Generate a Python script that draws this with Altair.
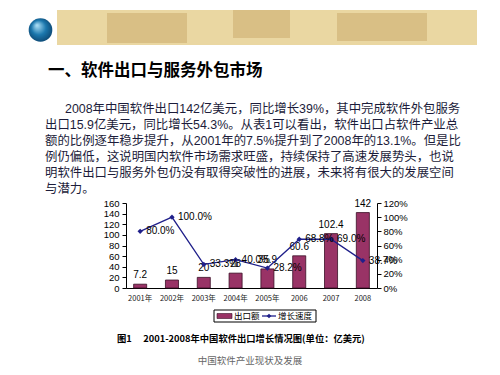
import altair as alt
import pandas as pd

# ---------------- data ----------------
years = ["2001年", "2002年", "2003年", "2004年", "2005年", "2006", "2007", "2008"]
export = [7.2, 15, 20, 28, 35.9, 60.6, 102.4, 142]
export_labels = ["7.2", "15", "20", "28", "35.9", "60.6", "102.4", "142"]
growth = [0.800, 1.000, 0.333, 0.400, 0.282, 0.688, 0.690, 0.387]
growth_labels = ["80.0%", "100.0%", "33.3%", "40.0%", "28.2%", "68.8%", "69.0%", "38.7%"]
left_ticks = [0, 20, 40, 60, 80, 100, 120, 140, 160]
right_ticks = [0, 0.2, 0.4, 0.6, 0.8, 1.0, 1.2]

title_text = "一、软件出口与服务外包市场"
para_first = "2008年中国软件出口142亿美元，同比增长39%，其中完成软件外包服务"
para_rest = [
    "出口15.9亿美元，同比增长54.3%。从表1可以看出，软件出口占软件产业总",
    "额的比例逐年稳步提升，从2001年的7.5%提升到了2008年的13.1%。但是比",
    "例仍偏低，这说明国内软件市场需求旺盛，持续保持了高速发展势头，也说",
    "明软件出口与服务外包仍没有取得突破性的进展，未来将有很大的发展空间",
    "与潜力。",
]
caption_text = "图1\u3000 2001-2008年中国软件出口增长情况图(单位：亿美元)"
footer_text = "中国软件产业现状及发展"
legend_names = ["出口额", "增长速度"]

df = pd.DataFrame({
    "year": years,
    "export": export,
    "elabel": export_labels,
    "growth": growth,
    "glabel": growth_labels,
})
one = pd.DataFrame({"a": [0]})

CJK = "Noto Sans CJK SC"
PARA = "Liberation Sans, Noto Sans CJK SC"
NUM = "Liberation Sans"
BAR = "#993366"
LINE = "#1f1f8a"

xenc = alt.X(
    "year:N", sort=years,
    scale=alt.Scale(paddingInner=0.59, paddingOuter=0.24),
    axis=alt.Axis(title=None, labelAngle=0, ticks=False, labelFont=CJK,
                  labelFontSize=7.5, labelPadding=6, labelColor="#222",
                  domainColor="black", domainWidth=1),
)
base = alt.Chart(df).encode(x=xenc)

lscale = alt.Scale(domain=[0, 160], nice=False, zero=True)
rscale = alt.Scale(domain=[0, 1.2], nice=False, zero=True)

bars = base.mark_bar(color=BAR, stroke="#3a0f26", strokeWidth=0.8).encode(
    y=alt.Y("export:Q", scale=lscale,
            axis=alt.Axis(values=left_ticks, title=None, grid=False,
                          domainColor="black", tickColor="black", tickSize=4,
                          labelFont=NUM, labelFontSize=9.5, labelColor="black",
                          labelPadding=3))
)
bar_text = base.mark_text(dy=-9, fontSize=10, font=NUM, color="black").encode(
    y=alt.Y("export:Q", scale=lscale, axis=None), text="elabel:N"
)
line = base.mark_line(color=LINE, strokeWidth=1.3).encode(
    y=alt.Y("growth:Q", scale=rscale,
            axis=alt.Axis(orient="right", values=right_ticks, format=".0%",
                          title=None, grid=False, domainColor="black",
                          tickColor="black", tickSize=4, labelFont=NUM,
                          labelFontSize=9.5, labelColor="black", labelPadding=2))
)
pts = base.mark_point(shape="diamond", filled=True, size=28, color=LINE, opacity=1).encode(
    y=alt.Y("growth:Q", scale=rscale, axis=None)
)
line_text = base.mark_text(align="left", dx=6, fontSize=10, font=NUM, color="black").encode(
    y=alt.Y("growth:Q", scale=rscale, axis=None), text="glabel:N"
)

def deco_rect(x, x2, y, y2, **kw):
    return alt.Chart(one).mark_rect(**kw).encode(
        x=alt.value(x), x2=alt.value(x2), y=alt.value(y), y2=alt.value(y2))

def deco_text(x, y, txt, **kw):
    return alt.Chart(one).mark_text(**kw).encode(
        x=alt.value(x), y=alt.value(y), text=alt.value(txt))

# header banner (coordinates relative to plot origin at page (126, 203))
banner = deco_rect(-69, 351, -193, -158, color="#ead7a2")
blk1 = deco_rect(-19, 61, -190, -160, color="#d9bf85")
blk2 = deco_rect(107, 164, -193, -165, color="#d9bf85")
blk3 = deco_rect(211, 301, -190, -162, color="#d9bf85")
globe = alt.Chart(one).mark_circle(
    size=560, opacity=1,
    color=alt.RadialGradient(
        gradient="radial", x1=0.35, y1=0.3, r1=0.02, x2=0.5, y2=0.5, r2=0.6,
        stops=[alt.GradientStop(color="#a9ddf5", offset=0),
               alt.GradientStop(color="#1b77ad", offset=0.5),
               alt.GradientStop(color="#0a3d66", offset=1)])
).encode(x=alt.value(-85.5), y=alt.value(-173))

title = deco_text(-78, -132, title_text, align="left", baseline="middle",
                  font=CJK, fontSize=16.5, fontWeight="bold", color="black")
p1 = deco_text(-61, -94, para_first, align="left", baseline="middle",
               font=PARA, fontSize=12.4, color="#1c1c3a")
prest = alt.Chart(one).mark_text(
    text=para_rest, align="left", baseline="top", lineHeight=16,
    font=PARA, fontSize=12.4, color="#1c1c3a"
).encode(x=alt.value(-81), y=alt.value(-84))

caption = deco_text(-9, 136, caption_text, align="left", baseline="middle",
                    font=CJK, fontSize=9.3, fontWeight="bold", color="black")
footer = deco_text(124, 158, footer_text, align="center", baseline="middle",
                   font=CJK, fontSize=9.5, color="#666666")

# legend
lg_box = deco_rect(88, 190, 107, 119, fill="white", stroke="black", strokeWidth=1)
lg_sw = deco_rect(91, 106, 110.5, 115.5, color=BAR, stroke="#3a0f26", strokeWidth=0.6)
lg_t1 = deco_text(108, 113, legend_names[0], align="left", baseline="middle",
                  font=CJK, fontSize=8.5, color="black")
lg_ln = alt.Chart(one).mark_rule(color=LINE, strokeWidth=1.3).encode(
    x=alt.value(136), x2=alt.value(150), y=alt.value(113))
lg_pt = alt.Chart(one).mark_point(shape="diamond", filled=True, size=22, color=LINE, opacity=1).encode(
    x=alt.value(143), y=alt.value(113))
lg_t2 = deco_text(152, 113, legend_names[1], align="left", baseline="middle",
                  font=CJK, fontSize=8.5, color="black")

chart = alt.layer(
    bars, bar_text, line, pts, line_text,
    banner, blk1, blk2, blk3, globe, title, p1, prest, caption, footer,
    lg_box, lg_sw, lg_t1, lg_ln, lg_pt, lg_t2,
).resolve_scale(y="independent").properties(
    width=251, height=85,
    autosize=alt.AutoSizeParams(type="none"),
    padding={"left": 118, "top": 195, "right": 115, "bottom": 79},
    background="white",
).configure_view(stroke=None)

chart.save("out.html", embed_options={"renderer": "svg", "actions": False})
